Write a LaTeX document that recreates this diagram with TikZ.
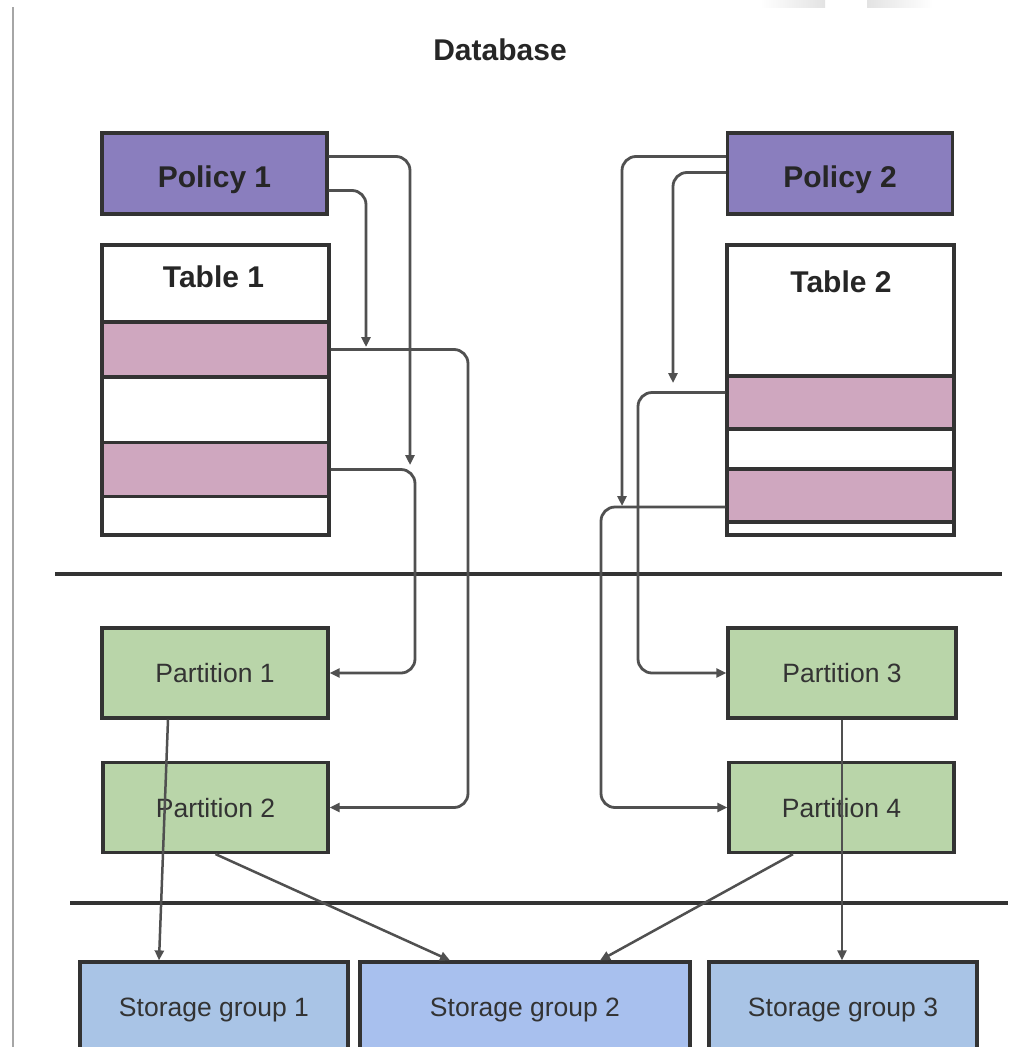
\documentclass[tikz,border=0pt]{standalone}
\usepackage{fontspec}
\setmainfont{Liberation Sans}
\usetikzlibrary{arrows.meta}
\definecolor{policyc}{HTML}{8A7EBE}
\definecolor{rowc}{HTML}{CFA7BF}
\definecolor{partc}{HTML}{B9D5A9}
\definecolor{sgc}{HTML}{A9C4E6}
\definecolor{sgbc}{HTML}{A8C0EE}
\definecolor{edgec}{HTML}{333333}
\definecolor{connc}{HTML}{505050}
\begin{document}
\begin{tikzpicture}[x=1pt,y=-1pt,
  box/.style={draw=edgec, line width=3.2pt, inner sep=0pt, rectangle},
  policybox/.style={box, fill=policyc, minimum width=225pt, minimum height=81pt,
    font=\fontsize{30pt}{36pt}\selectfont\bfseries, text height=27pt, text depth=0pt, text=black!85},
  tablebox/.style={box, fill=white, minimum width=227pt, minimum height=290pt},
  rowbox/.style={box, fill=rowc, minimum width=227pt},
  title/.style={font=\fontsize{30pt}{36pt}\selectfont\bfseries, anchor=base, inner sep=0pt, text=black!85},
  partbox/.style={box, fill=partc, minimum height=90pt,
    font=\fontsize{26.5pt}{32pt}\selectfont, text height=19pt, text depth=0pt, text=black!80},
  sgbox/.style={box, minimum height=88pt,
    font=\fontsize{26.5pt}{32pt}\selectfont, text height=20pt, text depth=0pt, text=black!80},
  conn/.style={draw=connc, line width=2.8pt, rounded corners=14pt, -{Triangle[length=10pt,width=9pt]}},
  slant/.style={draw=connc, line width=2.5pt, -{Triangle[length=10pt,width=9pt]}},
  sep/.style={draw=edgec, line width=4pt}]
\useasboundingbox (0,0) rectangle (1010,1047);
% faint artifacts at top right
\shade[left color=white, right color=gray!22] (760,0) rectangle (825,7);
\shade[left color=gray!22, right color=white] (867,0) rectangle (933,7);
% left border
\draw[gray!70, line width=2.2pt] (13,7) -- (13,1047);
% title
\node[title] (db) at (500,60) {Database};
% policies
\node[policybox] (p1) at (214.5,173.5) {Policy 1};
\node[policybox] (p2) at (840,173.5) {Policy 2};
% tables
\node[tablebox] (t1) at (215.5,390) {};
\node[title] (t1lab) at (213.5,287) {Table 1};
\node[rowbox, minimum height=55pt] (t1r1) at (215.5,349.5) {};
\node[rowbox, minimum height=54pt] (t1r2) at (215.5,469.5) {};
\node[tablebox] (t2) at (840.5,390) {};
\node[title] (t2lab) at (841,292) {Table 2};
\node[rowbox, minimum height=53pt] (t2r1) at (840.5,402.5) {};
\node[rowbox, minimum height=53pt] (t2r2) at (840.5,495.5) {};
% separators
\coordinate (s1a) at (55,574); \coordinate (s1b) at (1002,574);
\coordinate (s2a) at (70,903); \coordinate (s2b) at (1008,903);
\draw[sep] (s1a) -- (s1b);
\draw[sep] (s2a) -- (s2b);
% partitions
\node[partbox, minimum width=226pt] (pt1) at (215,673) {Partition 1};
\node[partbox, minimum width=225pt] (pt2) at (215.5,807.5) {Partition 2};
\node[partbox, minimum width=228pt] (pt3) at (842,673) {Partition 3};
\node[partbox, minimum width=225pt] (pt4) at (841.5,807.5) {Partition 4};
% storage groups
\node[sgbox, fill=sgc, minimum width=268pt] (sg1) at (214,1006) {Storage group 1};
\node[sgbox, fill=sgbc, minimum width=330pt] (sg2) at (525,1006) {Storage group 2};
\node[sgbox, fill=sgc, minimum width=268pt] (sg3) at (843,1006) {Storage group 3};
% helper coordinates
\coordinate (a1) at (410,465);
\coordinate (a2) at (366,347);
\coordinate (a3) at (622,506);
\coordinate (a4) at (673,383);
\coordinate (x3) at (468,0);
\coordinate (x4) at (415,0);
\coordinate (x5) at (638,0);
\coordinate (x6) at (601,0);
% policy connectors
\draw[conn] ([yshift=17pt]p1.east) -| (a1);
\draw[conn] ([yshift=-17pt]p1.east) -| (a2);
\draw[conn] ([yshift=17pt]p2.west) -| (a3);
\draw[conn] ([yshift=1pt]p2.west) -| (a4);
% row to partition connectors
\draw[conn] (t1r1.east) -| (x3 |- pt2.east) -- (pt2.east);
\draw[conn] (t1r2.east) -| (x4 |- pt1.east) -- (pt1.east);
\draw[conn] ([yshift=10pt]t2r1.west) -| (x5 |- pt3.west) -- (pt3.west);
\draw[conn] ([yshift=-11.5pt]t2r2.west) -| (x6 |- pt4.west) -- (pt4.west);
% partition to storage connectors
\draw[slant] ([xshift=-47pt]pt1.south) -- ([xshift=-55pt]sg1.north);
\draw[slant] (pt2.south) -- ([xshift=-75pt]sg2.north);
\draw[slant] ([xshift=-48.5pt]pt4.south) -- ([xshift=75pt]sg2.north);
\draw[slant] (pt3.south) -- ([xshift=-1pt]sg3.north);
\end{tikzpicture}
\end{document}
